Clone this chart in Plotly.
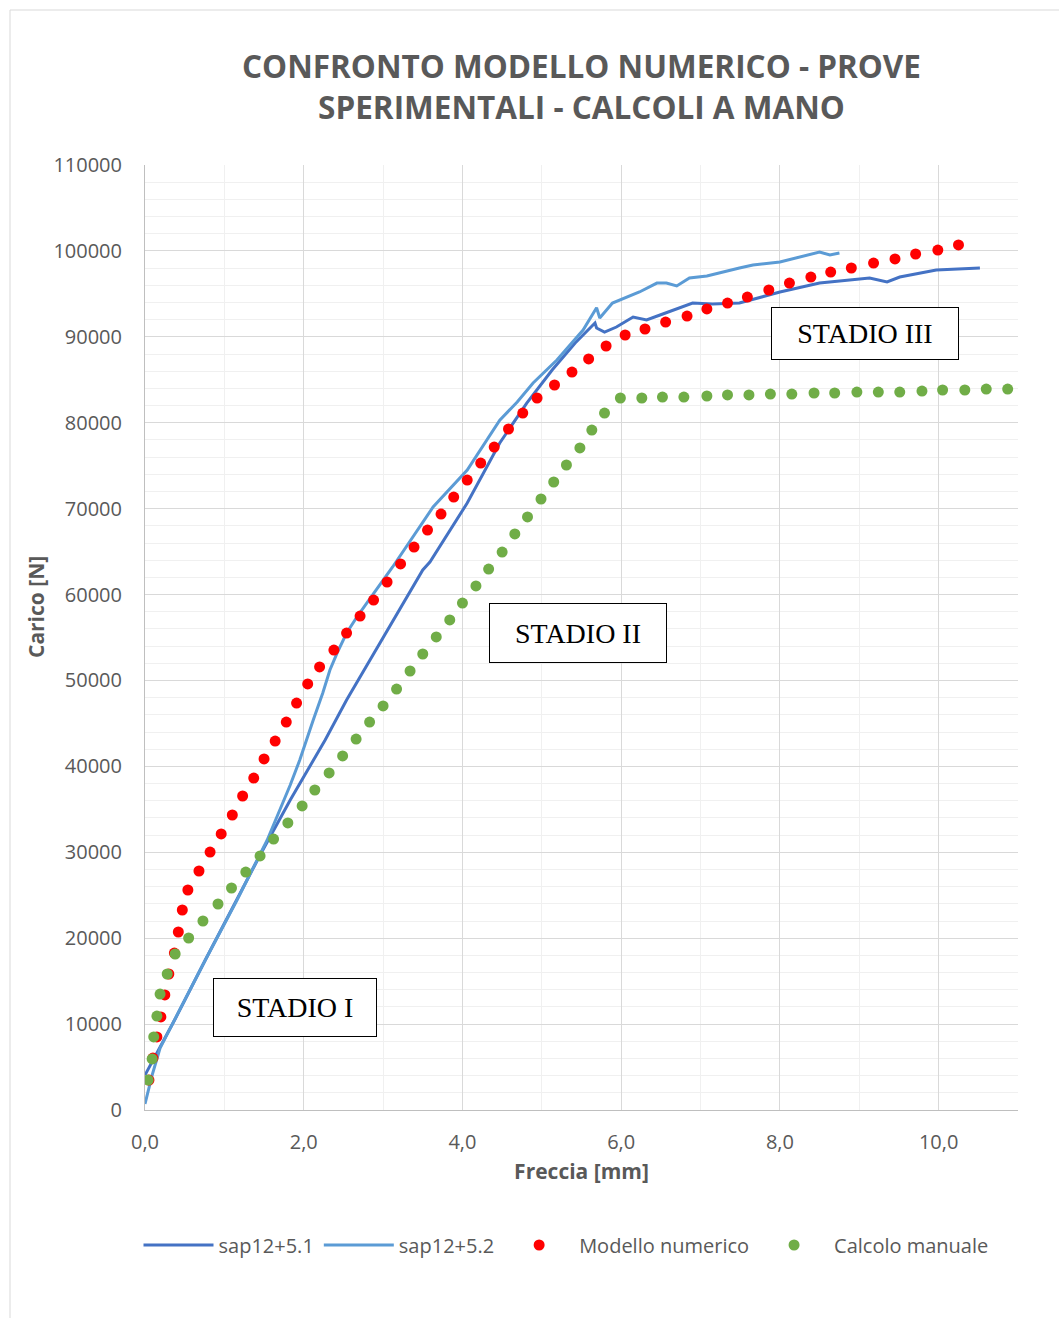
import plotly.graph_objects as go

# Load-deflection data: Freccia [mm] vs Carico [N]
sap51_x = [0.0, 0.38, 0.76, 1.16, 1.45, 1.83, 2.12, 2.27, 2.54, 2.96, 3.38, 3.50, 3.59,
           4.06, 4.47, 4.81, 5.13, 5.42, 5.67, 5.69, 5.79, 5.94, 6.15, 6.32, 6.49,
           6.90, 7.15, 7.49, 8.00, 8.50, 9.13, 9.35, 9.51, 9.97, 10.52]
sap51_y = [4070, 10590, 17460, 24440, 29680, 36080, 40740, 43070, 47720, 54360, 60880, 62860, 63790,
           70650, 77640, 82290, 86140, 89280, 91610, 91030, 90560, 91140, 92310, 91960, 92540,
           93930, 93820, 93930, 95220, 96260, 96840, 96380, 96960, 97780, 98010]

sap52_x = [0.0, 0.04, 0.09, 0.19, 0.76, 1.16, 1.45, 1.54, 1.83, 1.95, 2.12, 2.24, 2.33,
           2.42, 2.54, 2.67, 2.83, 3.12, 3.63, 4.06, 4.47, 4.69, 4.89, 5.19, 5.52,
           5.69, 5.73, 5.89, 6.23, 6.45, 6.57, 6.70, 6.86, 7.08, 7.49, 7.66, 8.00,
           8.50, 8.63, 8.75]
sap52_y = [700, 2330, 4070, 7220, 17460, 24440, 29680, 31430, 37830, 40740, 45400, 48540, 51220,
           53190, 55520, 57390, 59480, 63210, 70190, 74500, 80300, 82410, 84620, 87300, 90790,
           93380, 92190, 93930, 95220, 96260, 96260, 95920, 96840, 97080, 98010, 98360, 98710,
           99870, 99520, 99750]

modello_x = [0.05, 0.10, 0.15, 0.20, 0.25, 0.30, 0.37, 0.42, 0.47, 0.54, 0.68, 0.82, 0.96,
             1.10, 1.23, 1.37, 1.50, 1.64, 1.78, 1.91, 2.05, 2.20, 2.38, 2.54, 2.71, 2.88,
             3.05, 3.22, 3.39, 3.56, 3.73, 3.89, 4.06, 4.23, 4.40, 4.58, 4.76, 4.94, 5.16,
             5.38, 5.59, 5.81, 6.05, 6.30, 6.56, 6.83, 7.08, 7.34, 7.59, 7.86, 8.12, 8.39,
             8.64, 8.90, 9.18, 9.45, 9.71, 9.99, 10.25]
modello_y = [3490, 6050, 8500, 10830, 13390, 15830, 18270, 20720, 23280, 25610, 27820, 30030, 32130,
             34340, 36550, 38640, 40860, 42950, 45160, 47370, 49590, 51570, 53540, 55520, 57500, 59360,
             61460, 63560, 65530, 67510, 69370, 71350, 73330, 75310, 77170, 79270, 81130, 82880, 84390,
             85900, 87420, 88930, 90210, 90910, 91720, 92420, 93240, 93930, 94630, 95450, 96260, 96960,
             97540, 98010, 98590, 99060, 99640, 100100, 100690]

manuale_x = [0.04, 0.09, 0.11, 0.15, 0.19, 0.28, 0.38, 0.55, 0.73, 0.92, 1.09, 1.27, 1.45,
             1.62, 1.80, 1.98, 2.14, 2.32, 2.49, 2.66, 2.83, 3.00, 3.17, 3.34, 3.50, 3.67,
             3.84, 4.00, 4.17, 4.33, 4.50, 4.66, 4.82, 4.99, 5.15, 5.31, 5.48, 5.63, 5.79,
             5.99, 6.26, 6.52, 6.79, 7.08, 7.34, 7.61, 7.88, 8.15, 8.43, 8.69, 8.97, 9.24,
             9.51, 9.79, 10.05, 10.33, 10.60, 10.87]
manuale_y = [3490, 5940, 8500, 10940, 13500, 15830, 18160, 20020, 22000, 23980, 25840, 27700, 29570,
             31540, 33410, 35390, 37250, 39230, 41210, 43180, 45160, 47030, 49000, 51100, 53080, 55060,
             57040, 59010, 61000, 62970, 64950, 67050, 69030, 71120, 73100, 75080, 77060, 79150, 81130,
             82880, 82880, 82990, 82990, 83110, 83230, 83230, 83340, 83340, 83460, 83460, 83570, 83570,
             83570, 83690, 83810, 83810, 83920, 83920]

x_ticks = [0, 2, 4, 6, 8, 10]
y_ticks = list(range(0, 110001, 10000))

GRAY = "#595959"
FONT = "Open Sans"

fig = go.Figure()
fig.add_trace(go.Scatter(x=sap51_x, y=sap51_y, mode="lines", name="sap12+5.1",
                         line=dict(color="#4472C4", width=3)))
fig.add_trace(go.Scatter(x=sap52_x, y=sap52_y, mode="lines", name="sap12+5.2",
                         line=dict(color="#5B9BD5", width=3)))
fig.add_trace(go.Scatter(x=modello_x, y=modello_y, mode="markers", name="Modello numerico",
                         marker=dict(color="#FF0000", size=11)))
fig.add_trace(go.Scatter(x=manuale_x, y=manuale_y, mode="markers", name="Calcolo manuale",
                         marker=dict(color="#70AD47", size=11)))

# Stage labels in framed boxes
stages = [("STADIO I", 1.89, 11990, 160, 55),
          ("STADIO II", 5.45, 55520, 174, 56),
          ("STADIO III", 9.07, 90330, 184, 49)]
for text, sx, sy, w, h in stages:
    fig.add_annotation(x=sx, y=sy, xref="x", yref="y", text=text, showarrow=False,
                       font=dict(family="Liberation Serif", size=28, color="black"),
                       bgcolor="white", bordercolor="black", borderwidth=1,
                       width=w, height=h, borderpad=1)

# Plot-area geometry (pixels) used for paper-coordinate placement
W, H = 873, 945
L, T = 145, 165

# Vertical axis title
fig.add_annotation(xref="paper", yref="paper", x=(36 - L) / W, y=(T + H - 607) / H,
                   text="<b>Carico [N]</b>", textangle=-90, showarrow=False,
                   xanchor="center", yanchor="middle",
                   font=dict(family=FONT, size=21, color=GRAY))

# Outer chart frame
fig.add_shape(type="rect", xref="paper", yref="paper",
              x0=(10 - L) / W, x1=(1065 - L) / W,
              y0=(T + H - 1325) / H, y1=(T + H - 10) / H,
              line=dict(color="#D9D9D9", width=1), layer="below")

fig.update_layout(
    width=1059, height=1318,
    margin=dict(l=145, r=41, t=165, b=208),
    paper_bgcolor="white", plot_bgcolor="white",
    separators=",.",
    font=dict(family=FONT, color=GRAY, size=20),
    title=dict(text="<b>CONFRONTO MODELLO NUMERICO - PROVE<br>SPERIMENTALI - CALCOLI A MANO</b>",
               x=0.5, xref="paper", xanchor="center", y=1 - 78 / 1318, yanchor="middle",
               font=dict(family=FONT, size=31.5, color=GRAY)),
    showlegend=True,
    legend=dict(orientation="h", x=(566 - L) / W, xanchor="center", y=(T + H - 1245) / H,
                yanchor="middle", font=dict(family=FONT, size=20, color=GRAY), itemwidth=70,
                bgcolor="rgba(0,0,0,0)"),
    xaxis=dict(range=[0, 11], tickvals=x_ticks, tickformat=".1f",
               showgrid=True, gridcolor="#D9D9D9", gridwidth=1,
               minor=dict(dtick=1, showgrid=True, gridcolor="#F0F0F0", gridwidth=1),
               showline=True, linecolor="#BFBFBF", linewidth=1, zeroline=False,
               ticks="", tickfont=dict(size=20, color=GRAY), ticklabelstandoff=14,
               title=dict(text="<b>Freccia [mm]</b>", font=dict(size=21, color=GRAY), standoff=10)),
    yaxis=dict(range=[0, 110000], tickvals=y_ticks, tickformat="d",
               showgrid=True, gridcolor="#D9D9D9", gridwidth=1,
               minor=dict(dtick=2000, showgrid=True, gridcolor="#F0F0F0", gridwidth=1),
               showline=True, linecolor="#BFBFBF", linewidth=1, zeroline=False,
               ticks="", tickfont=dict(size=20, color=GRAY), ticklabelstandoff=18),
)

fig.write_html("out.html")
